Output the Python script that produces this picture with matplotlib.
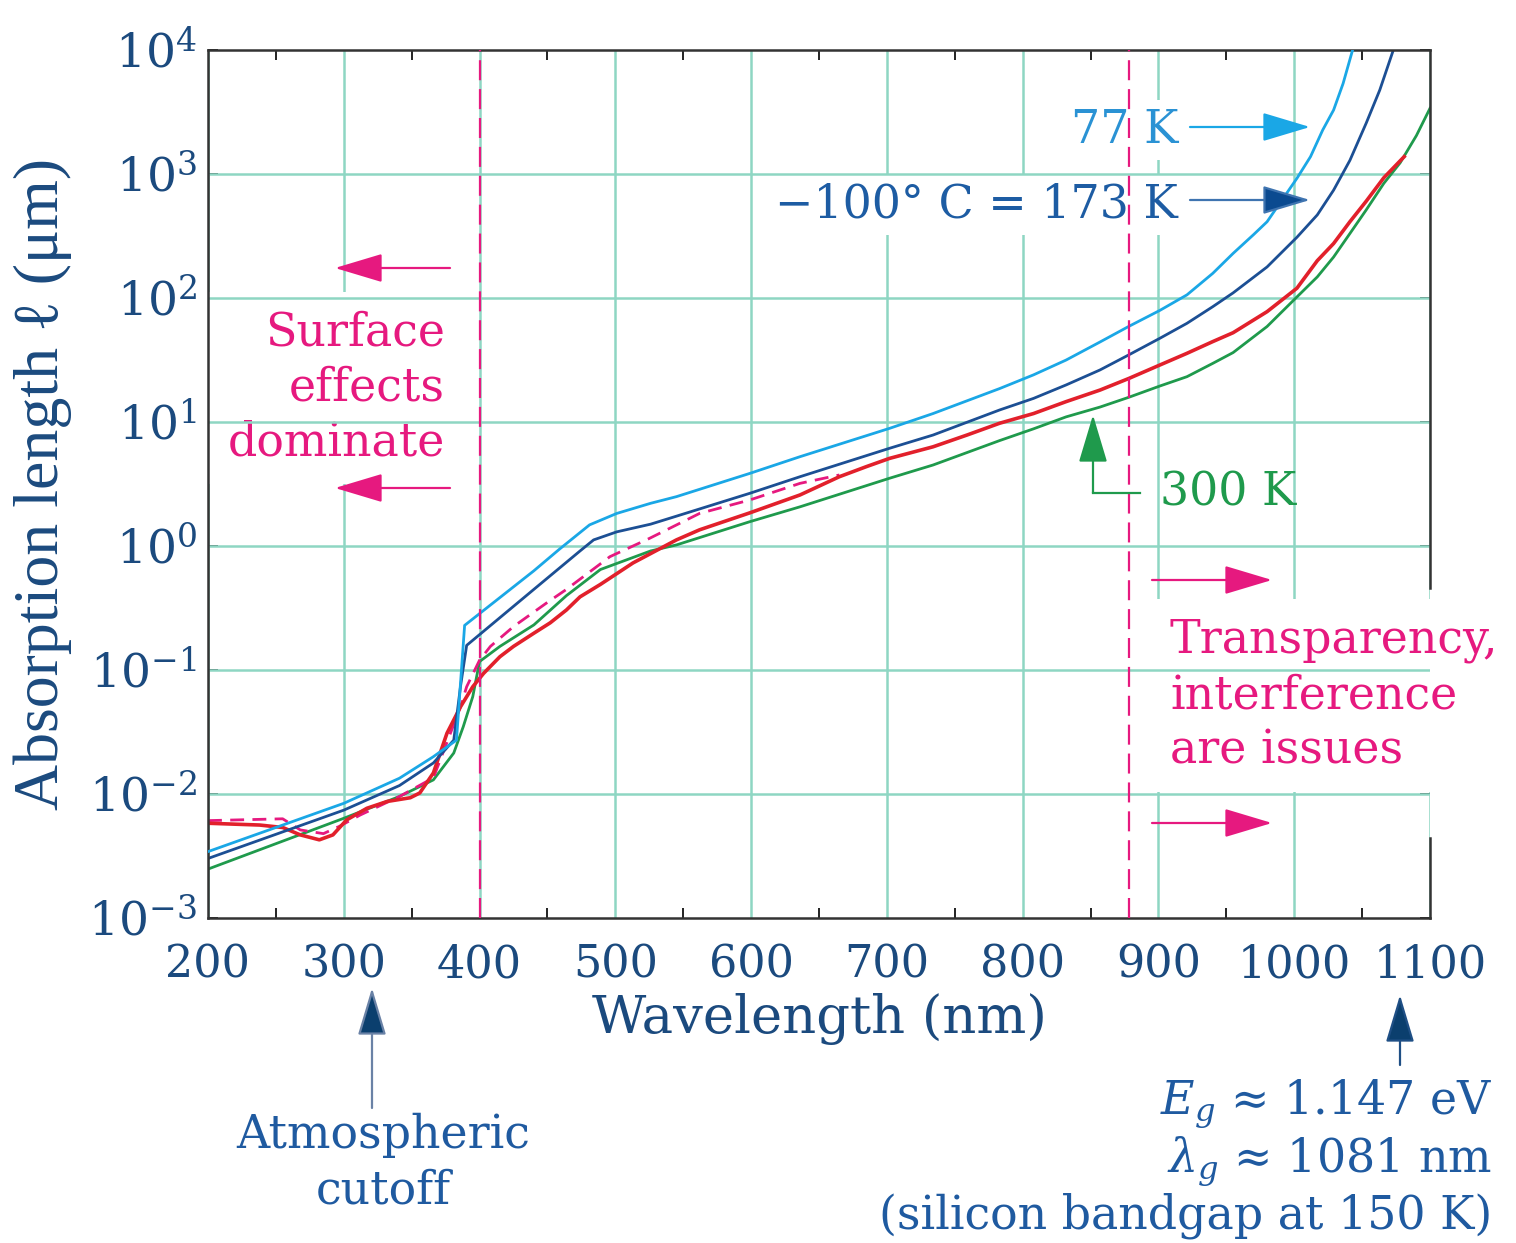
import matplotlib

matplotlib.use("Agg")

import matplotlib.pyplot as plt
import matplotlib.patheffects as pe
from matplotlib.lines import Line2D

W, H = 1516, 1243

# wavelength (nm) and absorption length (um)
wl_77k = [200, 300, 341, 366, 383, 389, 440, 459, 481, 501, 526, 545, 599, 636, 702,
          734, 783, 808, 832, 857, 878, 901, 921, 940, 955, 970, 980, 1002, 1012, 1021,
          1029, 1036, 1043]
len_77k = [0.00343, 0.00841, 0.0134, 0.0200, 0.0272, 0.229, 0.631, 0.946, 1.48, 1.83,
           2.21, 2.50, 3.85, 5.25, 8.89, 11.7, 18.6, 24.0, 31.6, 44.2, 58.9, 79.4, 106,
           158, 229, 324, 412, 923, 1380, 2265, 3281, 5370, 10000]

wl_173k = [200, 300, 341, 366, 381, 386, 390.5, 440, 474, 484, 501, 526, 545, 599, 636,
           702, 734, 783, 808, 832, 857, 878, 901, 921, 940, 955, 980, 1002, 1017, 1029,
           1041, 1053, 1063, 1073]
len_173k = [0.00302, 0.00741, 0.0117, 0.0178, 0.0272, 0.0741, 0.158, 0.447, 0.912, 1.12,
            1.30, 1.50, 1.74, 2.66, 3.62, 6.14, 7.85, 12.5, 15.5, 19.9, 26.3, 34.7, 47.3,
            62.5, 85.1, 110, 178, 309, 468, 741, 1288, 2570, 4753, 10000]

wl_300k = [200, 300, 341, 366, 381, 388, 395, 400, 415, 440, 464, 489, 526, 545, 599,
           636, 702, 734, 783, 808, 832, 857, 878, 901, 921, 940, 955, 980, 1002, 1017,
           1029, 1041, 1053, 1066, 1078, 1090, 1100]
len_300k = [0.00248, 0.00637, 0.00955, 0.0130, 0.0214, 0.0349, 0.0610, 0.117, 0.155,
            0.231, 0.398, 0.646, 0.912, 1.02, 1.57, 2.07, 3.52, 4.50, 7.08, 8.81, 11.0,
            13.2, 15.8, 19.5, 23.2, 29.7, 36.3, 58.9, 102, 148, 214, 331, 513, 841,
            1230, 2042, 3388]

wl_red = [200, 238, 255, 268, 282, 292, 302, 317, 332, 349, 356, 366, 376, 386, 395, 403,
          415, 425, 440, 452, 464, 474, 489, 513, 545, 562, 599, 636, 665, 685, 702, 734,
          759, 783, 808, 832, 857, 878, 901, 921, 940, 955, 980, 1002, 1017, 1029, 1041,
          1053, 1066, 1081]
len_red = [0.00581, 0.00562, 0.00537, 0.00468, 0.00427, 0.00468, 0.00617, 0.00767,
           0.00871, 0.00933, 0.0102, 0.0148, 0.0309, 0.0506, 0.0733, 0.0940, 0.128,
           0.155, 0.198, 0.240, 0.305, 0.389, 0.490, 0.730, 1.12, 1.35, 1.85, 2.58,
           3.62, 4.37, 5.09, 6.31, 7.85, 9.77, 11.7, 14.6, 18.1, 22.4, 28.8, 35.8, 44.5,
           52.5, 77.6, 120, 200, 275, 412, 603, 933, 1380]

wl_dash = [200, 255, 268, 285, 297, 312, 341, 366, 386, 390.5, 400, 408, 425, 449, 464,
           496, 525, 562, 599, 636, 665]
len_dash = [0.00610, 0.00631, 0.00513, 0.00479, 0.00550, 0.00676, 0.00955, 0.0135,
            0.0506, 0.0733, 0.120, 0.155, 0.224, 0.345, 0.447, 0.820, 1.15, 1.83, 2.35,
            3.20, 3.74]

x_ticks = [200, 300, 400, 500, 600, 700, 800, 900, 1000, 1100]
y_exps = [-3, -2, -1, 0, 1, 2, 3, 4]
edge_lines = [400, 878]

C_LIGHT = "#1aa7e6"
C_DARK = "#1c4f94"
C_GREEN = "#1f9a4c"
C_RED = "#e2202b"
C_MAG = "#e6197f"
C_GRID = "#8ed6c3"
C_TXT = "#1b4a7e"

plt.rcParams["font.family"] = ["DejaVu Serif"]
plt.rcParams["mathtext.fontset"] = "dejavuserif"


def fxy(x, y):
    return (x / W, 1 - y / H)


fig = plt.figure(figsize=(W / 100, H / 100), dpi=100)
ax = fig.add_axes([208 / W, (H - 918) / H, (1430 - 208) / W, (918 - 50) / H])
ax.set_yscale("log")
ax.set_xlim(200, 1100)
ax.set_ylim(1e-3, 1e4)
ax.set_axisbelow(True)

# vertical grid under the text boxes, horizontal grid above them
ax.grid(True, axis="x", color=C_GRID, lw=1.8)
for e in y_exps[1:-1]:
    ax.axhline(10.0 ** e, color=C_GRID, lw=1.8, zorder=1.2)

ax.set_xticks(x_ticks)
ax.set_xticklabels([str(v) for v in x_ticks])
ax.set_xticks(range(250, 1100, 100), minor=True)
ax.set_yticks([10.0 ** e for e in y_exps])
ax.set_yticklabels([f"$10^{{{e}}}$" for e in y_exps])
ax.yaxis.set_minor_locator(matplotlib.ticker.NullLocator())
ax.tick_params(axis="x", which="major", length=0, pad=18, labelsize=32, labelcolor=C_TXT)
ax.tick_params(axis="x", which="minor", direction="in", length=7, width=1.4,
               top=True, bottom=True, color="#222222")
ax.tick_params(axis="y", which="major", direction="in", length=7, width=1.4,
               left=True, right=True, pad=8, labelsize=34, labelcolor=C_TXT,
               color="#222222")

for side in ["left", "top", "bottom"]:
    ax.spines[side].set_color("#333333")
    ax.spines[side].set_linewidth(1.8)
ax.spines["right"].set_visible(False)
for y0, y1 in [(0.0, (918 - 838) / 868), ((918 - 588) / 868, 1.0)]:
    ax.add_line(Line2D([1, 1], [y0, y1], transform=ax.transAxes, color="#333333",
                       lw=1.8, clip_on=False, zorder=2.5))

ax.set_xlabel("Wavelength (nm)", fontsize=38, color=C_TXT)
ax.xaxis.set_label_coords(0.5, -0.086)
ax.set_ylabel("Absorption length ℓ (μm)", fontsize=46, color=C_TXT,
              family=["Liberation Serif", "DejaVu Serif"])
ax.yaxis.set_label_coords(-0.111, 0.5)

for x in edge_lines:
    ax.axvline(x, color=C_MAG, lw=1.6, dashes=(9, 4), zorder=3.5)

ax.plot(wl_300k, len_300k, color=C_GREEN, lw=2.0, zorder=2.2)
ax.plot(wl_red, len_red, color=C_RED, lw=2.6, zorder=2.4)
ax.plot(wl_dash, len_dash, color=C_MAG, lw=2.0, dashes=(5, 3), zorder=2.3)
ax.plot(wl_173k, len_173k, color=C_DARK, lw=2.0, zorder=2.5)
ax.plot(wl_77k, len_77k, color=C_LIGHT, lw=2.0, zorder=2.6)

box = dict(boxstyle="square,pad=0.15", fc="white", ec="none")


def label(x, y, s, color, ha, **kw):
    ax.text(*fxy(x, y), s, transform=fig.transFigure, color=color, ha=ha, va="center",
            fontsize=33, zorder=1, **kw)


def arrow(x0, y0, x1, y1, color, head=None, lw=1.6, **kw):
    ax.annotate("", xy=fxy(x1, y1), xytext=fxy(x0, y0), xycoords="figure fraction",
                textcoords="figure fraction", annotation_clip=False,
                arrowprops=dict(arrowstyle="-|>,head_length=1.5,head_width=0.45",
                                mutation_scale=20, color=color, lw=lw, shrinkA=0,
                                shrinkB=0, fc=head or color), zorder=4, **kw)


label(445, 388, "Surface\neffects\ndominate", C_MAG, "right", linespacing=1.28,
      bbox=dict(boxstyle="square,pad=0.4", fc="white", ec="none"))
arrow(450, 268, 335, 268, C_MAG)
arrow(450, 488, 335, 488, C_MAG)

label(1170, 696, "Transparency,\ninterference\nare issues", C_MAG, "left",
      linespacing=1.28, bbox=dict(boxstyle="square,pad=0.4", fc="white", ec="none"))
arrow(1152, 580, 1272, 580, C_MAG)
arrow(1152, 823, 1272, 823, C_MAG)

label(1178, 130, "77 K", "#2a92d4", "right", bbox=box)
label(1178, 205, "\u2212100\u00b0 C = 173 K", "#1d5ca3", "right", bbox=box)
arrow(1190, 127, 1310, 127, C_LIGHT)
arrow(1190, 200, 1310, 200, "#3f74b0", head="#0b4a90",
      path_effects=[pe.withStroke(linewidth=9, foreground="white")])

label(1160, 493, "300 K", C_GREEN, "left")
arrow(1093, 493, 1093, 415, C_GREEN)
ax.add_line(Line2D([1093 / W, 1140 / W], [1 - 493 / H, 1 - 493 / H],
                   transform=fig.transFigure, color=C_GREEN, lw=1.6, zorder=4))

fig.text(*fxy(383, 1163), "Atmospheric\ncutoff", color="#1f5aa0", ha="center",
         va="center", fontsize=33, linespacing=1.28)
arrow(372, 1108, 372, 988, "#6a82a6", head="#0b3f6e")

fig.text(*fxy(1492, 1158), "$E_g$ \u2248 1.147 eV\n$\\lambda_g$ \u2248 1081 nm\n"
         "(silicon bandgap at 150 K)", color="#1f5aa0", ha="right", va="center",
         fontsize=33, linespacing=1.12)
arrow(1400, 1065, 1400, 995, "#1f4f85", head="#0b3f6e")

fig.savefig("out.png", dpi=100)
